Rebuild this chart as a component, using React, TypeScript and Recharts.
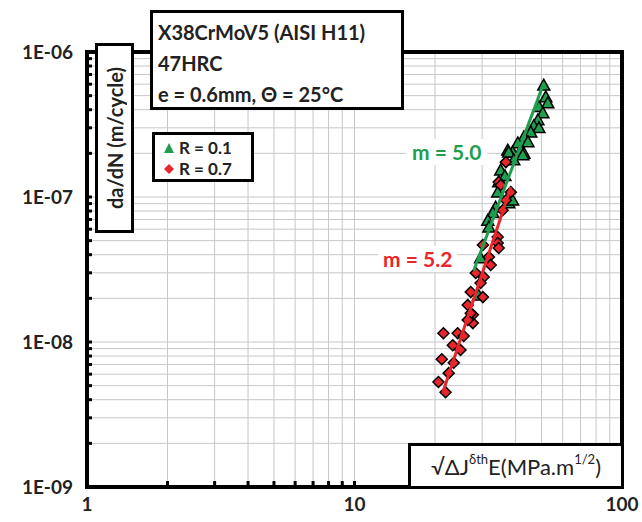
import {
  CartesianGrid,
  Legend,
  ReferenceArea,
  Scatter,
  ScatterChart,
  XAxis,
  YAxis,
} from "recharts";

const GREEN = "#1f9e4f";
const RED = "#e8262b";
const FONT = "Lato, 'Open Sans', sans-serif";

const xTicks = [1, 2, 3, 4, 5, 6, 7, 8, 9, 10, 20, 30, 40, 50, 60, 70, 80, 90, 100];
const yTicks = [
  1e-9, 2e-9, 3e-9, 4e-9, 5e-9, 6e-9, 7e-9, 8e-9, 9e-9,
  1e-8, 2e-8, 3e-8, 4e-8, 5e-8, 6e-8, 7e-8, 8e-8, 9e-8,
  1e-7, 2e-7, 3e-7, 4e-7, 5e-7, 6e-7, 7e-7, 8e-7, 9e-7, 1e-6,
];

// R = 0.1 (triangles)
const r01K = [
  51.0, 51.9, 52.8, 48.9, 50.6, 48.5, 46.8, 48.9, 45.6, 43.0, 44.5, 40.8, 41.8,
  39.0, 37.4, 43.0, 37.7, 42.6, 39.4, 35.2, 36.5, 34.6, 34.3, 37.7, 39.0, 33.7,
  32.9, 31.5, 31.8, 29.6, 29.1,
];
const r01Rate = [
  5.9e-7, 4.9e-7, 4.45e-7, 4.2e-7, 3.8e-7, 3.4e-7, 3.1e-7, 3.0e-7, 2.8e-7, 2.6e-7,
  2.4e-7, 2.36e-7, 2.1e-7, 2.04e-7, 2.1e-7, 2.0e-7, 2.04e-7, 1.95e-7, 1.8e-7,
  1.53e-7, 1.4e-7, 1.27e-7, 1.08e-7, 9.1e-8, 9.5e-8, 8.5e-8, 7.8e-8, 6.9e-8,
  6.2e-8, 3.8e-8, 2.1e-8,
];

// R = 0.7 (diamonds)
const r07K = [
  36.8, 34.6, 35.2, 38.4, 36.8, 35.8, 34.3, 30.2, 34.3, 34.6, 31.8, 32.3, 28.4,
  30.4, 29.6, 27.2, 30.2, 26.5, 27.7, 27.2, 27.7, 26.5, 24.3, 25.6, 21.5, 23.3,
  24.9, 21.2, 23.5, 22.5, 20.6, 21.9,
];
const r07Rate = [
  1.74e-7, 1.27e-7, 1.21e-7, 1.08e-7, 9.5e-8, 8.1e-8, 5.3e-8, 4.67e-8, 4.82e-8,
  4.45e-8, 3.86e-8, 3.4e-8, 2.99e-8, 2.81e-8, 2.55e-8, 2.21e-8, 2.04e-8, 1.8e-8,
  1.54e-8, 1.58e-8, 1.35e-8, 1.42e-8, 1.15e-8, 1.1e-8, 1.15e-8, 9.5e-9, 8.8e-9,
  7.6e-9, 7.2e-9, 6.1e-9, 5.3e-9, 4.5e-9,
];

// power-law fit lines (end points)
const fit01K = [27.9, 51.0];
const fit01Rate = [3.1e-8, 6.1e-7];
const fit07K = [21.4, 38.4];
const fit07Rate = [4.5e-9, 1.17e-7];

const zip = (xs: number[], ys: number[]) => xs.map((x, i) => ({ x, y: ys[i] }));

const isDecade = (v: number) => {
  const l = Math.log10(v);
  return Math.abs(l - Math.round(l)) < 1e-6;
};

const Triangle = (props: any) => {
  const { cx, cy } = props;
  const s = 6;
  return (
    <polygon
      points={`${cx},${cy - s} ${cx - s},${cy + s * 0.8} ${cx + s},${cy + s * 0.8}`}
      fill={GREEN}
      stroke="#000"
      strokeWidth={1.5}
    />
  );
};

const Diamond = (props: any) => {
  const { cx, cy } = props;
  const s = 5.5;
  return (
    <polygon
      points={`${cx},${cy - s} ${cx + s},${cy} ${cx},${cy + s} ${cx - s},${cy}`}
      fill={RED}
      stroke="#000"
      strokeWidth={1.5}
    />
  );
};

const NoShape = () => <g />;

const YTick = (props: any) => {
  const { x, y, payload } = props;
  const v = payload.value;
  const dec = isDecade(v);
  return (
    <g>
      <line x1={x + 8} x2={x + 13} y1={y} y2={y} stroke="#000" strokeWidth={3} />
      {dec && (
        <text
          x={x - 6}
          y={y}
          dy={7}
          textAnchor="end"
          fontSize={19}
          fontWeight={700}
          fontFamily={FONT}
          fill="#222"
        >
          {"1E-" + String(-Math.round(Math.log10(v))).padStart(2, "0")}
        </text>
      )}
    </g>
  );
};

const XTick = (props: any) => {
  const { x, y, payload } = props;
  const v = payload.value;
  const dec = isDecade(v);
  return (
    <g>
      <line x1={x} x2={x} y1={y} y2={y - 6} stroke="#000" strokeWidth={3} />
      {dec && (
        <text
          x={x}
          y={y}
          dy={24}
          textAnchor="middle"
          fontSize={19}
          fontWeight={700}
          fontFamily={FONT}
          fill="#222"
        >
          {String(v)}
        </text>
      )}
    </g>
  );
};

const LegendBox = (props: any) => {
  const items = (props.payload || []).filter((p: any) => p.type !== "none");
  return (
    <div
      style={{
        border: "3px solid #000",
        background: "#fff",
        boxSizing: "border-box",
        width: 102,
        height: 50,
        padding: "2px 0 0 8px",
        fontFamily: FONT,
        fontWeight: 700,
        fontSize: 17,
        color: "#222",
        lineHeight: "21px",
      }}
    >
      {items.map((p: any) => (
        <div key={p.value} style={{ display: "flex", alignItems: "center" }}>
          <svg width={12} height={12} style={{ marginRight: 4 }}>
            {p.type === "triangle" ? (
              <polygon points="6,1 1,11 11,11" fill={GREEN} />
            ) : (
              <polygon points="6,1 11,6 6,11 1,6" fill={RED} />
            )}
          </svg>
          <span>{p.value}</span>
        </div>
      ))}
    </div>
  );
};

const box: React.CSSProperties = {
  position: "absolute",
  border: "3px solid #000",
  background: "#fff",
  boxSizing: "border-box",
  fontFamily: FONT,
  fontWeight: 700,
  color: "#222",
};

export default function App() {
  return (
    <div style={{ position: "absolute", left: 0, top: 0, width: 642, height: 522, background: "#fff" }}>
      <ScatterChart
        width={642}
        height={522}
        margin={{ top: 52, right: 20, bottom: 0, left: 7 }}
      >
        <CartesianGrid stroke="#c6c6cc" strokeWidth={1} />
        <XAxis
          type="number"
          dataKey="x"
          scale="log"
          domain={[1, 100]}
          ticks={xTicks}
          interval={0}
          height={35}
          allowDataOverflow
          axisLine={false}
          tickLine={false}
          tickSize={0}
          tickMargin={0}
          tick={<XTick />}
        />
        <YAxis
          type="number"
          dataKey="y"
          scale="log"
          domain={[1e-9, 1e-6]}
          ticks={yTicks}
          interval={0}
          width={80}
          allowDataOverflow
          axisLine={false}
          tickLine={false}
          tickSize={0}
          tickMargin={8}
          tick={<YTick />}
        />
        <ReferenceArea
          x1={1}
          x2={100}
          y1={1e-9}
          y2={1e-6}
          fill="none"
          fillOpacity={0}
          stroke="#000"
          strokeWidth={4}
          ifOverflow="visible"
        />
        <Legend
          verticalAlign="middle"
          align="center"
          layout="vertical"
          content={<LegendBox />}
          wrapperStyle={{ position: "absolute", left: 152, top: 132, width: 102, height: 50 }}
        />
        <Scatter
          name="R = 0.1"
          data={zip(r01K, r01Rate)}
          shape={<Triangle />}
          legendType="triangle"
          fill={GREEN}
          isAnimationActive={false}
        />
        <Scatter
          name="R = 0.7"
          data={zip(r07K, r07Rate)}
          shape={<Diamond />}
          legendType="diamond"
          fill={RED}
          isAnimationActive={false}
        />
        <Scatter
          data={zip(fit01K, fit01Rate)}
          line={{ stroke: GREEN, strokeWidth: 3 }}
          shape={<NoShape />}
          legendType="none"
          isAnimationActive={false}
        />
        <Scatter
          data={zip(fit07K, fit07Rate)}
          line={{ stroke: RED, strokeWidth: 3 }}
          shape={<NoShape />}
          legendType="none"
          isAnimationActive={false}
        />
      </ScatterChart>

      <div style={{ ...box, left: 150, top: 10, width: 254, height: 100, fontSize: 20, lineHeight: "31px", padding: "4px 0 0 5px" }}>
        <div>X38CrMoV5 (AISI H11)</div>
        <div>47HRC</div>
        <div>e = 0.6mm, Θ = 25°C</div>
      </div>

      <div
        style={{
          ...box,
          left: 95,
          top: 43,
          width: 39,
          height: 190,
          fontSize: 20,
          display: "flex",
          alignItems: "center",
          justifyContent: "center",
        }}
      >
        <div style={{ writingMode: "vertical-rl", transform: "rotate(180deg)", whiteSpace: "nowrap" }}>
          da/dN (m/cycle)
        </div>
      </div>

      <div
        style={{
          ...box,
          left: 408,
          top: 443,
          width: 216,
          height: 46,
          fontSize: 22,
          fontWeight: 400,
          display: "flex",
          alignItems: "center",
          justifyContent: "center",
          whiteSpace: "nowrap",
        }}
      >
        <span>√ΔJ</span>
        <span style={{ fontSize: 13, position: "relative", top: -7 }}>δth</span>
        <span>E(MPa.m</span>
        <span style={{ fontSize: 13, position: "relative", top: -7 }}>1/2</span>
        <span>)</span>
      </div>

      <div
        style={{
          position: "absolute",
          left: 406,
          top: 139,
          padding: "0 6px",
          background: "#fff",
          color: GREEN,
          fontFamily: FONT,
          fontWeight: 700,
          fontSize: 21,
          lineHeight: "26px",
        }}
      >
        m = 5.0
      </div>

      <div
        style={{
          position: "absolute",
          left: 378,
          top: 246,
          padding: "0 5px",
          background: "#fff",
          color: RED,
          fontFamily: FONT,
          fontWeight: 700,
          fontSize: 21,
          lineHeight: "26px",
        }}
      >
        m = 5.2
      </div>
    </div>
  );
}
